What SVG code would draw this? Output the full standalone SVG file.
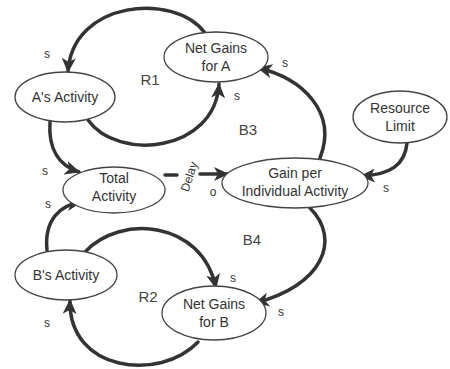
<svg xmlns="http://www.w3.org/2000/svg" width="450" height="369" viewBox="0 0 450 369">
<defs>
<style>
.node ellipse{fill:#fff;stroke:#444;stroke-width:1.3}
.node text{font-family:"Liberation Sans",Arial,sans-serif;font-size:14px;fill:#333;text-anchor:middle}
.lbl{font-family:"Liberation Sans",Arial,sans-serif;font-size:12px;fill:#333;text-anchor:middle}
.loop{font-family:"Liberation Sans",Arial,sans-serif;font-size:15px;fill:#444;text-anchor:middle}
.edge{fill:none;stroke:#333;stroke-width:3.5;stroke-linecap:round}
</style>
<marker id="ah" markerUnits="userSpaceOnUse" markerWidth="16" markerHeight="14" viewBox="0 0 16 14" refX="14" refY="7" orient="auto">
<path d="M0,0 L15,7 L0,14 L4,7 Z" fill="#333"/>
</marker>
</defs>
<rect width="450" height="369" fill="#fff"/>
<g id="connectors">
<path class="edge" d="M205,33 C175,-8 72,0 68,72" marker-end="url(#ah)"/>
<path class="edge" d="M88,120 C118,162 215,152 219,84" marker-end="url(#ah)"/>
<path class="edge" d="M50,122 C48,150 60,166 79,172" marker-end="url(#ah)"/>
<path class="edge" d="M165,175 L177,175"/>
<path class="edge" d="M200,174 L228,174" marker-end="url(#ah)"/>
<path class="edge" d="M320,158 C338,112 302,78 258,68" marker-end="url(#ah)"/>
<path class="edge" d="M407,143 C405,165 390,175 361,176" marker-end="url(#ah)"/>
<path class="edge" d="M310,208 C342,240 322,286 255,303" marker-end="url(#ah)"/>
<path class="edge" d="M47,250 C44,220 60,205 81,202" marker-end="url(#ah)"/>
<path class="edge" d="M85,252 C120,214 202,220 216,288" marker-end="url(#ah)"/>
<path class="edge" d="M198,342 C160,382 68,372 70,300" marker-end="url(#ah)"/>
</g>
<g id="labels">
<text class="lbl" x="47" y="58">s</text>
<text class="lbl" x="237" y="100">s</text>
<text class="lbl" x="45" y="175">s</text>
<text class="lbl" x="285" y="67">s</text>
<text class="lbl" x="386" y="192">s</text>
<text class="lbl" x="213" y="196">o</text>
<text class="lbl" x="281" y="316">s</text>
<text class="lbl" x="48" y="208">s</text>
<text class="lbl" x="233" y="282">s</text>
<text class="lbl" x="47" y="327">s</text>
<text class="lbl" x="0" y="0" transform="translate(193,178) rotate(-72)" font-size="12.5">Delay</text>
<text class="loop" x="150" y="85">R1</text>
<text class="loop" x="248" y="135">B3</text>
<text class="loop" x="252" y="245">B4</text>
<text class="loop" x="148" y="302">R2</text>
</g>
<g id="netGainsA" class="node">
<ellipse cx="216" cy="57" rx="52" ry="25"/>
<text x="216" y="53">Net Gains</text>
<text x="216" y="71">for A</text>
</g>
<g id="aActivity" class="node">
<ellipse cx="65" cy="97" rx="50" ry="25"/>
<text x="65" y="102">A's Activity</text>
</g>
<g id="totalActivity" class="node">
<ellipse cx="114" cy="190" rx="51" ry="23"/>
<text x="114" y="183">Total</text>
<text x="114" y="201">Activity</text>
</g>
<g id="gainPer" class="node">
<ellipse cx="295" cy="183" rx="73" ry="25"/>
<text x="295" y="178">Gain per</text>
<text x="295" y="196">Individual Activity</text>
</g>
<g id="resourceLimit" class="node">
<ellipse cx="400" cy="117" rx="47" ry="26"/>
<text x="400" y="113">Resource</text>
<text x="400" y="131">Limit</text>
</g>
<g id="bActivity" class="node">
<ellipse cx="66" cy="275" rx="51" ry="25"/>
<text x="66" y="280">B's Activity</text>
</g>
<g id="netGainsB" class="node">
<ellipse cx="214" cy="313" rx="52" ry="27"/>
<text x="214" y="309">Net Gains</text>
<text x="214" y="327">for B</text>
</g>
</svg>
